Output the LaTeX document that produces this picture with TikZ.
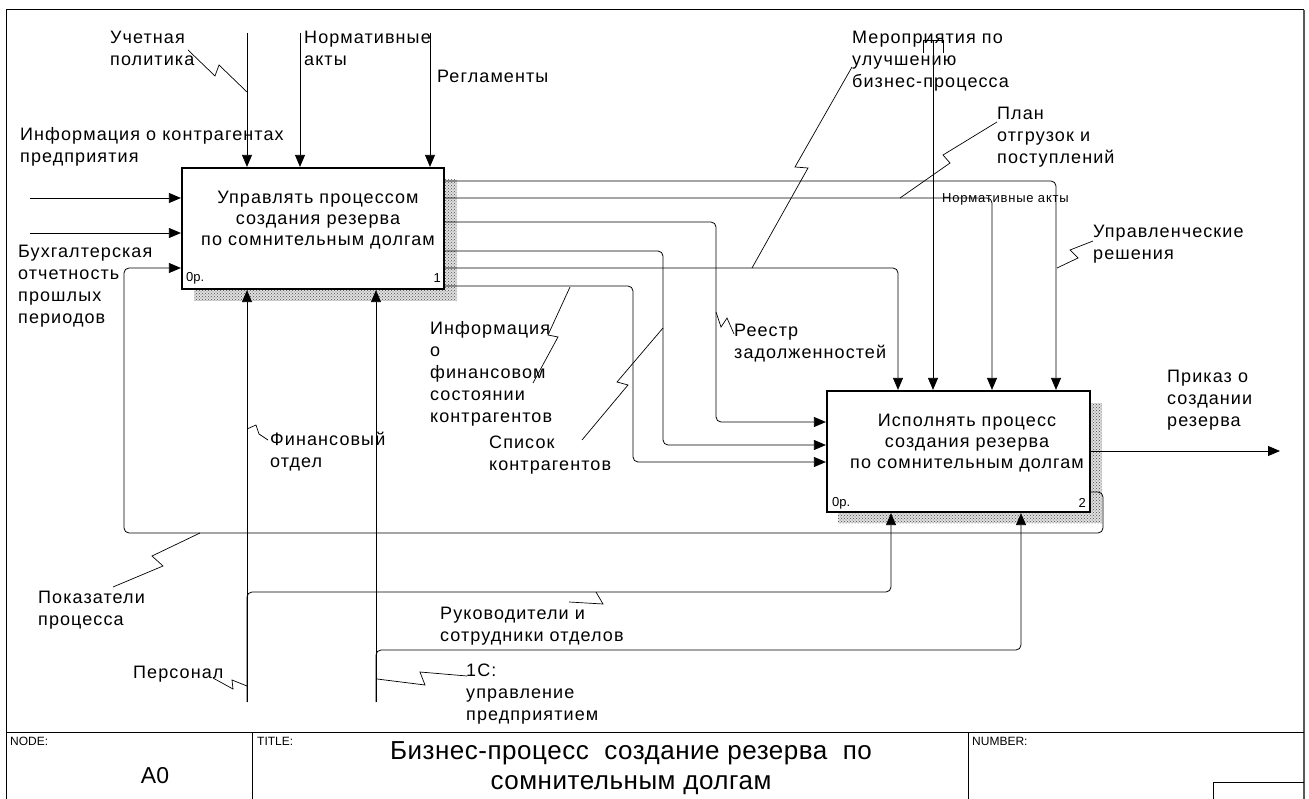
\documentclass[tikz,border=0pt]{standalone}
\usepackage{fontspec}
\setmainfont{Liberation Sans}
\newfontfamily\lbf[LetterSpace=6]{Liberation Sans}
\newfontfamily\ttlf[LetterSpace=2]{Liberation Sans}
\usetikzlibrary{arrows.meta,patterns}
\tikzset{
 ln/.style={line width=0.8pt},
 arr/.style={ln, -{Triangle[length=12pt,width=10pt]}},
 rc/.style={rounded corners=5pt},
 sq/.style={line width=0.7pt},
 lbl/.style={anchor=north west, inner sep=0pt, align=left, font=\lbf\fontsize{18}{22}\selectfont},
 box/.style={draw, line width=2.2pt, fill=white, inner sep=0pt},
 shadebg/.style={fill=gray!25},
 shade/.style={pattern=crosshatch dots, pattern color=gray!60!black},
 small/.style={inner sep=0pt, font=\fontsize{13}{15}\selectfont},
 tiny/.style={inner sep=0pt, font=\fontsize{12}{14}\selectfont},
 boxtext/.style={align=center, inner sep=0pt, font=\lbf\fontsize{18}{21}\selectfont},
 frame/.style={line width=1pt},
}
\begin{document}
\begin{tikzpicture}[x=1pt,y=-1pt]
\useasboundingbox (0,0) rectangle (1309,799);
% frame
\draw[frame] (6,799) -- (6,10) -- (1304,10);
\draw[line width=2pt, gray!70!black] (1304,10) -- (1304,799);
\draw[frame] (6,732) -- (1304,732);
\draw[frame] (252,732) -- (252,799);
\draw[frame] (968,732) -- (968,799);
\draw[frame] (1213,799) -- (1213,782) -- (1304,782);
\node[tiny, anchor=west] (nodel) at (10,741) {NODE:};
\node[tiny, anchor=west] (titlel) at (257,741) {TITLE:};
\node[tiny, anchor=west] (numl) at (972,741) {NUMBER:};
\node[inner sep=0pt, font=\fontsize{23}{26}\selectfont] (a0) at (155,776) {A0};
\node[anchor=north, align=center, inner sep=0pt, font=\ttlf\fontsize{26}{30}\selectfont] (title) at (631,738.5) {\strut Бизнес-процесс\ \ создание резерва\ \ по\\сомнительным долгам};

% shadows
\fill[shadebg] (194,180) rectangle (457,301);
\fill[shade] (194,180) rectangle (457,301);
\fill[shadebg] (838,403) rectangle (1102,523);
\fill[shade] (838,403) rectangle (1102,523);
% boxes
\node[box, minimum width=262pt, minimum height=121pt] (b1) at (313,228.5) {};
\node[box, minimum width=263pt, minimum height=121pt] (b2) at (958.5,451.5) {};
\node[boxtext] (t1) at (318,220) {Управлять процессом\\создания резерва\\по сомнительным долгам};
\node[boxtext] (t2) at (967,443) {Исполнять процесс\\создания резерва\\по сомнительным долгам};
\node[small, anchor=west] (n1a) at (186,278) {0р.};
\node[small, anchor=east] (n1b) at (441,278) {1};
\node[small, anchor=west] (n2a) at (832,503) {0р.};
\node[small, anchor=east] (n2b) at (1086,503) {2};

% controls of box 1
\coordinate (c11) at (247,33);
\coordinate (c12) at (300,33);
\coordinate (c13) at (430,33);
\draw[arr] (c11) -- (c11 |- b1.north);
\draw[arr] (c12) -- (c12 |- b1.north);
\draw[arr] (c13) -- (c13 |- b1.north);
% inputs of box 1
\coordinate (i11) at (30,198);
\coordinate (i12) at (30,233);
\draw[arr] (i11) -- (i11 -| b1.west);
\draw[arr] (i12) -- (i12 -| b1.west);
% feedback loop
\draw[arr, rc] (b2.east |- 0,492) -- (1103,492) -- (1103,533) -- (124,533) -- (124,268) -- (b1.west |- 0,268);
% mechanisms
\coordinate (m11) at (247,702);
\coordinate (m12) at (376,702);
\draw[arr] (m11) -- (m11 |- b1.south);
\draw[arr] (m12) -- (m12 |- b1.south);
\coordinate (r1) at (891,592);
\coordinate (r2) at (1021,650);
\draw[arr, rc] (m11) |- (r1) -- (r1 |- b2.south);
\draw[arr, rc] (m12) |- (r2) -- (r2 |- b2.south);
% outputs of box 1
\draw[arr, rc] (b1.east |- 0,181) -| (b2.north -| 1056,0);
\draw[arr, rc] (b1.east |- 0,198) -| (b2.north -| 992,0);
\draw[arr, rc] (b1.east |- 0,222) -| (716,300) |- (b2.west |- 0,422);
\draw[arr, rc] (b1.east |- 0,251) -| (663,300) |- (b2.west |- 0,445);
\draw[arr, rc] (b1.east |- 0,268) -| (b2.north -| 898,0);
\draw[arr, rc] (b1.east |- 0,286) -| (633,300) |- (b2.west |- 0,462);
% external control of box 2
\coordinate (c21) at (933,40);
\draw[arr] (c21) -- (c21 |- b2.north);
\draw[ln] (923,53) -- (923,40) -- (943,40) -- (943,53);
% output of box 2
\coordinate (o21) at (1280,451);
\draw[arr] (b2.east |- o21) -- (o21);

% labels
\node[lbl] (l1) at (110,28) {\strut Учетная\\политика};
\draw[sq] (188,50) -- (215,76) -- (219,65) -- (247,92);
\node[lbl] (l2) at (304,28) {\strut Нормативные\\акты};
\node[lbl] (l3) at (437,67) {\strut Регламенты};
\node[lbl] (l4) at (20,125) {\strut Информация о контрагентах\\предприятия};
\node[lbl] (l5) at (18,242) {\strut Бухгалтерская\\отчетность\\прошлых\\периодов};
\node[lbl] (l6) at (38,588) {\strut Показатели\\процесса};
\draw[sq] (200,533) -- (152,556) -- (163,566) -- (113,587);
\node[lbl] (l7) at (270,430) {\strut Финансовый\\отдел};
\draw[sq] (247,429) -- (256,425) -- (259,434) -- (268,440);
\node[lbl] (l8) at (133,663) {\strut Персонал};
\draw[sq] (247,686) -- (232,680) -- (233,689) -- (213,678);
\node[lbl] (l9) at (466,661) {\strut 1С:\\управление\\предприятием};
\draw[sq] (377,679) -- (425,685) -- (420,672) -- (467,676);
\node[lbl] (l10) at (440,604) {\strut Руководители и\\сотрудники отделов};
\draw[sq] (596,592) -- (603,604) -- (569,602);
\node[lbl] (l11) at (430,319) {\strut Информация\\о\\финансовом\\состоянии\\контрагентов};
\draw[sq] (570,287) -- (548,335) -- (558,337) -- (533,383);
\node[lbl] (l12) at (489,433) {\strut Список\\контрагентов};
\draw[sq] (663,328) -- (617,382) -- (628,385) -- (582,440);
\node[lbl] (l13) at (734,321) {\strut Реестр\\задолженностей};
\draw[sq] (716,312) -- (721,327) -- (727,318) -- (734,334);
\node[lbl] (l14) at (852,28) {\strut Мероприятия по\\улучшению\\бизнес-процесса};
\draw[sq] (752,268) -- (808,168) -- (795,167) -- (852,67);
\node[lbl] (l15) at (997,104) {\strut План\\отгрузок и\\поступлений};
\draw[sq] (900,198) -- (950,163) -- (943,155) -- (997,122);
\node[tiny, anchor=west, font=\lbf\fontsize{13}{15}\selectfont] (l16) at (942,199) {Нормативные акты};
\node[lbl] (l17) at (1093,222) {\strut Управленческие\\решения};
\draw[sq] (1057,268) -- (1078,258) -- (1070,250) -- (1093,241);
\node[lbl] (l18) at (1167,367) {\strut Приказ о\\создании\\резерва};
\end{tikzpicture}
\end{document}
